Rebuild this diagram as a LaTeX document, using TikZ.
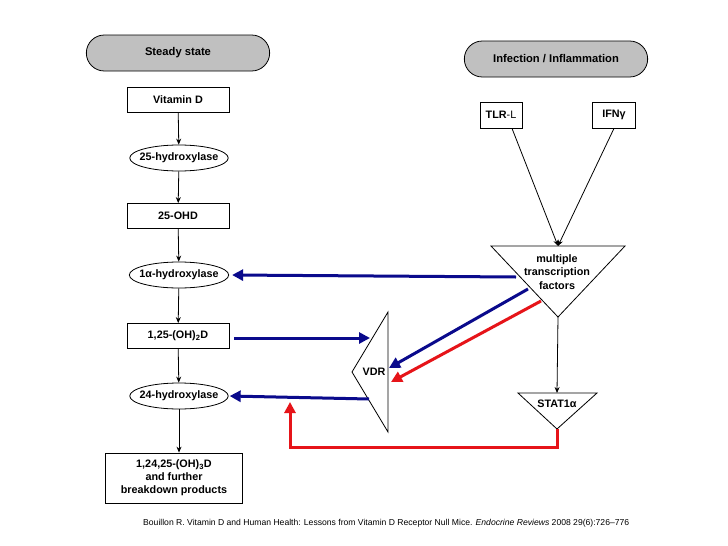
\documentclass[tikz,border=0pt]{standalone}
\usepackage{fontspec}
\setmainfont{Liberation Sans}
\usetikzlibrary{arrows.meta,shapes.geometric,shapes.misc}
\definecolor{pillgray}{RGB}{192,192,192}
\definecolor{navy}{RGB}{10,10,140}
\definecolor{redc}{RGB}{230,20,25}
\begin{document}
\begin{tikzpicture}[x=1pt,y=-1pt,
  lbl/.style={font=\fontsize{10.8}{12}\selectfont\bfseries},
  pill/.style={draw,line width=0.8pt,fill=pillgray,rounded rectangle,minimum width=190pt,minimum height=36pt,font=\fontsize{11.2}{13}\selectfont\bfseries},
  box/.style={draw,line width=0.8pt,lbl,minimum width=102pt,minimum height=25pt,inner sep=1pt},
  enz/.style={draw,line width=0.8pt,ellipse,lbl,minimum height=26pt,inner xsep=-4.5pt,inner ysep=2pt},
  blk/.style={line width=0.8pt,-{Stealth[length=6pt,width=5pt]}},
  bluearr/.style={draw=navy,line width=3pt,-{Triangle[length=11pt,width=11pt]},shorten >=0pt},
  redarr/.style={draw=redc,line width=3pt,-{Triangle[length=11pt,width=11pt]}},
  tri/.style={draw,line width=0.8pt,fill=white}
]
\useasboundingbox (0,0) rectangle (728,546);
\fill[white] (0,0) rectangle (728,546);

% left column
\node[pill] (ss) at (178,53) {Steady state};
\node[box] (vd) at (178,100) {Vitamin D};
\node[enz] (h25) at (179,158) {25-hydroxylase};
\node[box] (ohd) at (178,216) {25-OHD};
\node[enz] (h1a) at (179,275) {1α-hydroxylase};
\node[box] (d125) at (178,336) {1,25-(OH)\textsubscript{2}D};
\node[enz] (h24) at (179,396) {24-hydroxylase};
\node[box,minimum width=137pt,minimum height=50pt,align=center,font=\fontsize{10.8}{13}\selectfont\bfseries] (d124) at (174,478) {1,24,25-(OH)\textsubscript{3}D\\and further\\breakdown products};

\draw[blk] (vd) -- (h25);
\draw[blk] (h25) -- (ohd);
\draw[blk] (ohd) -- (h1a);
\draw[blk] (h1a) -- (d125);
\draw[blk] (d125) -- (h24);
\draw[blk] (h24.south) -- (d124.north -| h24.south);

% right column
\node[pill] (inf) at (556,59) {Infection / Inflammation};
\node[box,minimum width=42pt,minimum height=26pt] (tlr) at (501,115) {TLR\textmd{-L}};
\node[box,minimum width=43pt,minimum height=26pt] (ifn) at (614,115) {IFNγ};

% multiple transcription factors triangle
\coordinate (m1) at (491,246);
\coordinate (m2) at (625,246);
\coordinate (m3) at (558,317);
\draw[tri] (m1) -- (m2) -- (m3) -- cycle;
\node[lbl,align=center,font=\fontsize{10.8}{13.5}\selectfont\bfseries] (mtf) at (557,272) {multiple\\transcription\\factors};
\coordinate (mtop) at (558,246);
\draw[blk] (tlr.south) ++(11,0) coordinate (tlrb) -- (mtop);
\draw[blk] (ifn.south) coordinate (ifnb) -- (mtop);

% STAT1a triangle
\coordinate (s1) at (518,393);
\coordinate (s2) at (597,393);
\coordinate (s3) at (557,429);
\draw[tri] (s1) -- (s2) -- (s3) -- cycle;
\node[lbl] (stat) at (557,404) {STAT1α};
\coordinate (stop) at (557,393);
\draw[blk] (m3) -- (stop);

% VDR triangle
\coordinate (v1) at (388,312);
\coordinate (v2) at (388,432);
\coordinate (v3) at (352,372);
\draw[tri] (v1) -- (v2) -- (v3) -- cycle;
\node[lbl] (vdr) at (374,372) {VDR};

% blue arrows
\coordinate (b1s) at (516,277);
\draw[bluearr] (b1s) -- ([xshift=3pt]h1a.east);
\coordinate (b2e) at (370,338);
\draw[bluearr] (d125.east) ++(5,2) -- (b2e);
\coordinate (b3s) at (369,399);
\draw[bluearr] (b3s) -- ([xshift=1pt]h24.east);
\coordinate (b4s) at (528,289);
\coordinate (b4e) at (389,368);
\draw[bluearr] (b4s) -- (b4e);

% red arrows
\coordinate (r1s) at (541,301);
\coordinate (r1e) at (391,382);
\draw[redarr] (r1s) -- (r1e);
\coordinate (r2e) at (290,402);
\draw[redarr] (s3) -- (557,447) -- (290,447) -- (r2e);

% citation
\node[anchor=west,inner sep=0pt,font=\fontsize{8.6}{10}\selectfont] (cit) at (143,523) {Bouillon R. Vitamin D and Human Health: Lessons from Vitamin D Receptor Null Mice. \textit{Endocrine Reviews} 2008 29(6):726–776};
\end{tikzpicture}
\end{document}
